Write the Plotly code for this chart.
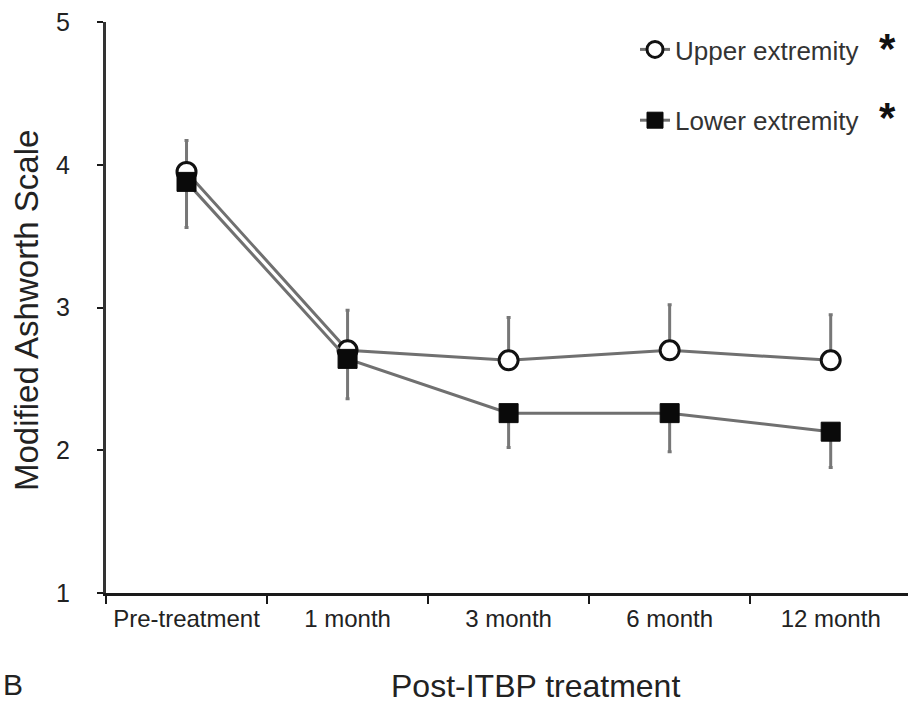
import plotly.graph_objects as go

categories = ["Pre-treatment", "1 month", "3 month", "6 month", "12 month"]
upper_values = [3.95, 2.70, 2.63, 2.70, 2.63]
upper_err_up = [0.22, 0.28, 0.30, 0.32, 0.32]
lower_values = [3.88, 2.64, 2.26, 2.26, 2.13]
lower_err_down = [0.32, 0.28, 0.24, 0.27, 0.25]
y_ticks = [1, 2, 3, 4, 5]

FONT = "Liberation Sans, Arial, sans-serif"
TXT = "#222222"
LINE = "#707070"

fig = go.Figure()

fig.add_trace(go.Scatter(
    x=categories, y=upper_values, mode="lines+markers", name="Upper extremity",
    legendgroup="u",
    line=dict(color=LINE, width=3),
    marker=dict(symbol="circle", size=19, color="white", line=dict(color="#111111", width=3)),
    error_y=dict(type="data", symmetric=False, array=upper_err_up,
                 arrayminus=[0] * len(upper_err_up), color="#777777", thickness=3, width=2),
))
fig.add_trace(go.Scatter(
    x=categories, y=lower_values, mode="lines+markers", name="Lower extremity",
    legendgroup="l",
    line=dict(color=LINE, width=3),
    marker=dict(symbol="square", size=19, color="#0a0a0a", line=dict(color="#0a0a0a", width=1)),
    error_y=dict(type="data", symmetric=False, array=[0] * len(lower_err_down),
                 arrayminus=lower_err_down, color="#777777", thickness=3, width=2),
))

fig.update_layout(
    width=908, height=707,
    margin=dict(l=106, r=0, t=22, b=114),
    paper_bgcolor="white", plot_bgcolor="white",
    font=dict(family=FONT, color=TXT),
    showlegend=True,
    legend=dict(
        x=(635 - 106) / 802, y=(593 - 26) / 571, xanchor="left", yanchor="top",
        font=dict(size=26, color="#333333", family=FONT),
        traceorder="grouped", tracegroupgap=34, itemwidth=30,
        bgcolor="rgba(0,0,0,0)",
    ),
    xaxis=dict(
        type="category", range=[-0.5, 4.48],
        showline=True, linecolor="#1a1a1a", linewidth=3,
        ticks="outside", ticklen=8, tickwidth=2, tickcolor="#1a1a1a",
        tickson="boundaries",
        tickfont=dict(size=24, color=TXT, family=FONT),
        ticklabelstandoff=2,
        showgrid=False, zeroline=False,
    ),
    yaxis=dict(
        range=[1, 5], tickvals=y_ticks,
        showline=True, linecolor="#333333", linewidth=3,
        ticks="outside", ticklen=6, tickwidth=2, tickcolor="#1a1a1a",
        tickfont=dict(size=25, color=TXT, family=FONT),
        ticklabelstandoff=22,
        showgrid=False, zeroline=False,
    ),
    annotations=[
        dict(text="Modified Ashworth Scale", textangle=-90, xref="paper", yref="paper",
             x=(26 - 106) / 802, y=(593 - 311) / 571, xanchor="center", yanchor="middle",
             showarrow=False, font=dict(size=33, color=TXT, family=FONT)),
        dict(text="Post-ITBP treatment", xref="paper", yref="paper",
             x=(535 - 106) / 802, y=(593 - 686) / 571, xanchor="center", yanchor="middle",
             showarrow=False, font=dict(size=32, color=TXT, family=FONT)),
        dict(text="B", xref="paper", yref="paper",
             x=(1 - 106) / 802, y=(593 - 684) / 571, xanchor="left", yanchor="middle",
             showarrow=False, font=dict(size=30, color=TXT, family=FONT)),
        dict(text="<b>*</b>", xref="paper", yref="paper",
             x=(887 - 106) / 802, y=(593 - 48) / 571, xanchor="center", yanchor="middle",
             showarrow=False, font=dict(size=42, color="#111111", family=FONT)),
        dict(text="<b>*</b>", xref="paper", yref="paper",
             x=(887 - 106) / 802, y=(593 - 117) / 571, xanchor="center", yanchor="middle",
             showarrow=False, font=dict(size=42, color="#111111", family=FONT)),
    ],
)

fig.write_html("out.html")
